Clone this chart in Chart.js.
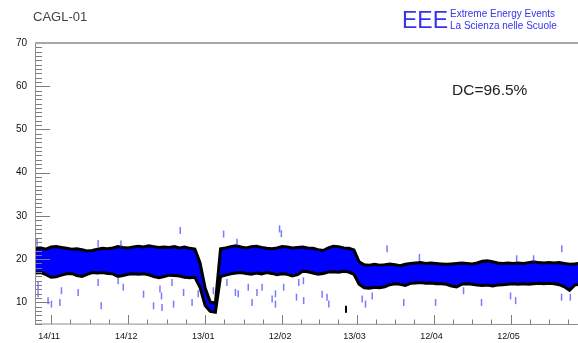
<!DOCTYPE html>
<html>
<head>
<meta charset="utf-8">
<title>CAGL-01 rate</title>
<script src="https://cdn.jsdelivr.net/npm/chart.js@4.4.1/dist/chart.umd.min.js"></script>
<style>
  html, body { margin: 0; padding: 0; background: #fff; }
  #wrap { position: relative; width: 578px; height: 343px; overflow: hidden;
          font-family: "Liberation Sans", Arial, sans-serif; }
  #wrap canvas { position: absolute; left: 0; top: 0; }
  .t { position: absolute; white-space: nowrap; line-height: 1; }
  #station { left: 33px; top: 9.5px; font-size: 13px; color: #444; }
  #dc { left: 452px; top: 82px; font-size: 15.5px; color: #222; }
  #eee { left: 402px; top: 9px; font-size: 23px; color: #3434f0; }
  #eee1 { left: 450px; top: 8.5px; font-size: 10px; color: #3434f0; }
  #eee2 { left: 450px; top: 21px; font-size: 10px; color: #3434f0; }
</style>
</head>
<body>
<div id="wrap">
  <canvas id="rate" width="578" height="343"></canvas>
  <div class="t" id="station">CAGL-01</div>
  <div class="t" id="eee">EEE</div>
  <div class="t" id="eee1">Extreme Energy Events</div>
  <div class="t" id="eee2">La Scienza nelle Scuole</div>
  <div class="t" id="dc">DC=96.5%</div>
</div>
<script>
// Time axis: days counted from 14/11, with the date labels ROOT puts on it
const dateTickDays = [0, 30, 60, 90, 119, 149, 179];
const dateTickLabels = ['14/11', '14/12', '13/01', '12/02', '13/03', '12/04', '12/05'];
const rateTicks = [10, 20, 30, 40, 50, 60, 70];

// Rate band (Hz): upper and lower envelope every two days
const bandDays = [-6, -4, -2, 0, 2, 4, 6, 8, 10, 12, 14, 16, 18, 20, 22, 24, 26, 28, 30, 32,
  34, 36, 38, 40, 42, 44, 46, 48, 50, 52, 54, 56, 58, 60, 62, 64, 66, 68, 70, 72,
  74, 76, 78, 80, 82, 84, 86, 88, 90, 92, 94, 96, 98, 100, 102, 104, 106, 108, 110, 112,
  114, 116, 118, 120, 122, 124, 126, 128, 130, 132, 134, 136, 138, 140, 142, 144, 146, 148, 150, 152,
  154, 156, 158, 160, 162, 164, 166, 168, 170, 172, 174, 176, 178, 180, 182, 184, 186, 188, 190, 192,
  194, 196, 198, 200, 202, 204, 206];
const bandUpper = [22.4, 22.6, 22.3, 22.8, 22.9, 22.7, 22.5, 22.3, 22.4, 22.2, 21.9, 22.0, 22.3, 22.5, 22.4, 22.6, 22.9, 22.7, 22.6, 22.8,
  23.0, 22.8, 23.1, 22.9, 22.7, 22.8, 22.7, 22.9, 22.6, 22.8, 22.5, 22.3, 19.2, 13.3, 10.1, 9.8, 22.4, 22.6, 22.9, 23.1,
  22.8, 22.6, 22.9, 23.0, 22.7, 22.5, 22.4, 22.6, 22.9, 22.8, 22.6, 22.7, 22.8, 22.6, 22.5, 22.2, 22.0, 22.6, 23.0, 22.9,
  22.6, 22.5, 22.1, 19.4, 18.7, 18.6, 18.8, 18.6, 18.7, 18.9, 18.7, 18.5, 18.8, 19.0, 19.1, 19.2, 19.0, 19.1, 19.0, 18.9,
  18.8, 18.9, 19.0, 19.1, 19.0, 18.9, 19.1, 19.5, 19.6, 19.4, 19.1, 19.0, 19.1, 19.0, 19.1, 19.0, 19.2, 19.4, 19.2, 19.1,
  19.2, 19.1, 19.2, 19.0, 18.8, 18.9, 19.0];
const bandLower = [16.8, 16.9, 16.4, 15.8, 15.9, 16.3, 16.6, 16.7, 16.2, 16.0, 16.5, 16.9, 16.8, 16.9, 16.7, 16.6, 16.0, 16.2, 16.5, 16.6,
  16.5, 16.6, 16.4, 16.0, 15.7, 16.0, 16.3, 16.2, 16.1, 15.8, 15.7, 15.8, 13.5, 9.3, 7.9, 7.7, 16.0, 16.3, 16.6, 16.8,
  16.9, 16.7, 16.5, 16.8, 16.6, 16.9, 16.7, 16.4, 16.6, 16.5, 16.1, 16.4, 17.2, 17.1, 16.8, 16.5, 16.7, 17.0, 17.1, 17.0,
  17.2, 17.0, 16.5, 14.2, 13.4, 13.3, 13.5, 13.4, 13.6, 14.1, 14.3, 14.2, 13.9, 14.4, 14.5, 14.6, 14.4, 14.5, 14.3, 14.3,
  14.2, 13.8, 13.6, 14.2, 14.3, 14.2, 14.0, 13.9, 14.0, 13.8, 14.0, 14.1, 14.2, 14.3, 14.2, 14.3, 14.2, 14.3, 14.4, 14.3,
  14.4, 14.3, 14.1, 13.6, 12.8, 14.0, 14.2];

// Isolated runs away from the band
const spikeDays = [-5.5, -5.1, -5.1, -1.2, 0.1, 3.4, 4.0, 10.5, 18.3, 18.3, 19.5, 26.1, 27.2, 28.1, 36.0,
  39.9, 42.4, 43.0, 43.2, 47.1, 47.7, 50.3, 51.6, 54.9, 57.3, 63.2, 67.2, 68.5, 71.8, 72.4,
  72.9, 76.8, 78.3, 80.2, 82.2, 86.1, 87.4, 87.4, 89.0, 89.7, 90.6, 95.6, 96.5, 98.4, 98.3,
  105.6, 107.5, 108.2, 121.2, 122.5, 125.1, 130.9, 137.4, 143.5, 149.8, 160.7, 167.7, 179.0, 181.0, 181.4,
  188.0, 199.0, 198.9, 202.3];
const spikeRates = [23.9, 13.9, 12.0, 10.4, 9.6, 10.0, 12.7, 12.3, 14.6, 23.6, 9.2, 15.0, 23.5, 13.5, 11.9,
  9.2, 13.1, 11.5, 8.8, 14.6, 9.6, 26.6, 12.3, 10.0, 12.0, 12.7, 25.8, 14.6, 12.3, 23.9,
  12.0, 13.5, 10.0, 12.3, 13.5, 10.8, 9.6, 12.0, 27.0, 25.9, 13.5, 11.2, 14.6, 10.4, 15.0,
  11.9, 11.2, 9.6, 10.8, 9.6, 11.5, 22.4, 10.0, 20.4, 10.0, 12.7, 10.0, 11.5, 10.4, 20.1,
  20.1, 22.4, 11.2, 11.2];
const darkDays = [114.9];
const darkRates = [8.4];

const xy = (xs, ys) => xs.map((d, i) => ({ x: d, y: ys[i] }));

// ROOT-style frame: inward ticks on the left and bottom axes, grey frame lines
const rootFrame = {
  id: 'rootFrame',
  afterDatasetsDraw(chart) {
    const { ctx, chartArea: a, scales: { x, y } } = chart;
    ctx.save();
    ctx.strokeStyle = '#7d7d7d';
    ctx.lineWidth = 1;
    ctx.beginPath();
    // rate axis: a tick every unit, long ones on the labelled values
    for (let v = Math.ceil(y.min); v <= y.max; v++) {
      const py = Math.round(y.getPixelForValue(v)) + 0.5;
      const len = v % 10 === 0 ? 15 : 7;
      ctx.moveTo(a.left, py);
      ctx.lineTo(a.left + len, py);
    }
    // time axis: four sub-divisions between dates
    const sub = 4;
    const minor = [];
    for (let i = 0; i < dateTickDays.length - 1; i++) {
      const d0 = dateTickDays[i], d1 = dateTickDays[i + 1];
      for (let k = 1; k < sub; k++) minor.push(d0 + (d1 - d0) * k / sub);
    }
    const stepHead = (dateTickDays[1] - dateTickDays[0]) / sub;
    const stepTail = (dateTickDays[dateTickDays.length - 1] - dateTickDays[dateTickDays.length - 2]) / sub;
    for (let d = dateTickDays[0] - stepHead; d >= x.min; d -= stepHead) minor.push(d);
    for (let d = dateTickDays[dateTickDays.length - 1] + stepTail; d <= x.max; d += stepTail) minor.push(d);
    dateTickDays.forEach(d => {
      const px = Math.round(x.getPixelForValue(d)) + 0.5;
      ctx.moveTo(px, a.bottom);
      ctx.lineTo(px, a.bottom - 9);
    });
    minor.forEach(d => {
      const px = Math.round(x.getPixelForValue(d)) + 0.5;
      ctx.moveTo(px, a.bottom);
      ctx.lineTo(px, a.bottom - 4.5);
    });
    ctx.stroke();
    // frame lines
    ctx.strokeStyle = '#8c8c8c';
    ctx.beginPath();
    ctx.moveTo(Math.round(a.left) + 0.5, a.top);
    ctx.lineTo(Math.round(a.left) + 0.5, a.bottom);
    ctx.lineTo(a.right, Math.round(a.bottom) + 0.5);
    ctx.stroke();
    ctx.strokeStyle = '#a8a8a8';
    ctx.lineWidth = 2;
    ctx.beginPath();
    ctx.moveTo(a.left, a.top);
    ctx.lineTo(a.right, a.top);
    ctx.stroke();
    ctx.restore();
  }
};

function makeConfig() {
  return {
    type: 'line',
    data: {
      datasets: [
        {
          label: 'upper',
          data: xy(bandDays, bandUpper),
          borderColor: '#000',
          borderWidth: 3,
          pointRadius: 0,
          tension: 0,
          fill: '+1',
          backgroundColor: '#0000ff',
          order: 3
        },
        {
          label: 'lower',
          data: xy(bandDays, bandLower),
          borderColor: '#000',
          borderWidth: 3,
          pointRadius: 0,
          tension: 0,
          fill: false,
          order: 2
        },
        {
          label: 'runs',
          data: xy(spikeDays, spikeRates),
          showLine: false,
          pointStyle: 'line',
          rotation: 90,
          pointRadius: 3.5,
          borderWidth: 1.5,
          borderColor: 'rgba(50,50,255,0.65)',
          order: 1
        },
        {
          label: 'runs-dark',
          data: xy(darkDays, darkRates),
          showLine: false,
          pointStyle: 'line',
          rotation: 90,
          pointRadius: 3.5,
          borderWidth: 2,
          borderColor: '#000',
          order: 1
        }
      ]
    },
    options: {
      responsive: false,
      animation: false,
      devicePixelRatio: 1,
      layout: { padding: { top: 43, left: 0, right: 0, bottom: 0 } },
      plugins: { legend: { display: false }, tooltip: { enabled: false } },
      scales: {
        x: {
          type: 'linear',
          min: -6.3,
          max: 205.3,
          grid: { display: false, drawTicks: false },
          border: { display: false },
          afterBuildTicks: s => { s.ticks = dateTickDays.map(v => ({ value: v })); },
          afterFit: s => { s.height = 19; },
          ticks: {
            autoSkip: false,
            maxRotation: 0,
            padding: 7,
            labelOffset: -2,
            color: '#111',
            font: { family: 'Liberation Sans', size: 9 },
            callback: (v) => {
              const i = dateTickDays.indexOf(v);
              return i >= 0 ? dateTickLabels[i] : '';
            }
          }
        },
        y: {
          min: 5,
          max: 70,
          grid: { display: false, drawTicks: false },
          border: { display: false },
          afterBuildTicks: s => { s.ticks = rateTicks.map(v => ({ value: v })); },
          afterFit: s => { s.width = 35; },
          ticks: {
            padding: 8,
            color: '#111',
            font: { family: 'Liberation Sans', size: 10 }
          }
        }
      }
    },
    plugins: [rootFrame]
  };
}

// The plot frame runs to the right edge of the 578px picture: the layout keeps a
// small margin on the right, so the canvas is widened by that margin and the
// overflow is cut by the wrapper.
const canvas = document.getElementById('rate');
const FRAME_RIGHT = 578;
function build(w) {
  canvas.width = w;
  canvas.height = 343;
  canvas.style.width = w + 'px';
  canvas.style.height = '343px';
  return new Chart(canvas, makeConfig());
}
let chart = build(FRAME_RIGHT);
for (let pass = 0; pass < 3; pass++) {
  const gap = FRAME_RIGHT - chart.chartArea.right;
  if (Math.abs(gap) < 0.5) break;
  const w = chart.width + gap;
  chart.destroy();
  chart = build(Math.round(w));
}
</script>
</body>
</html>
